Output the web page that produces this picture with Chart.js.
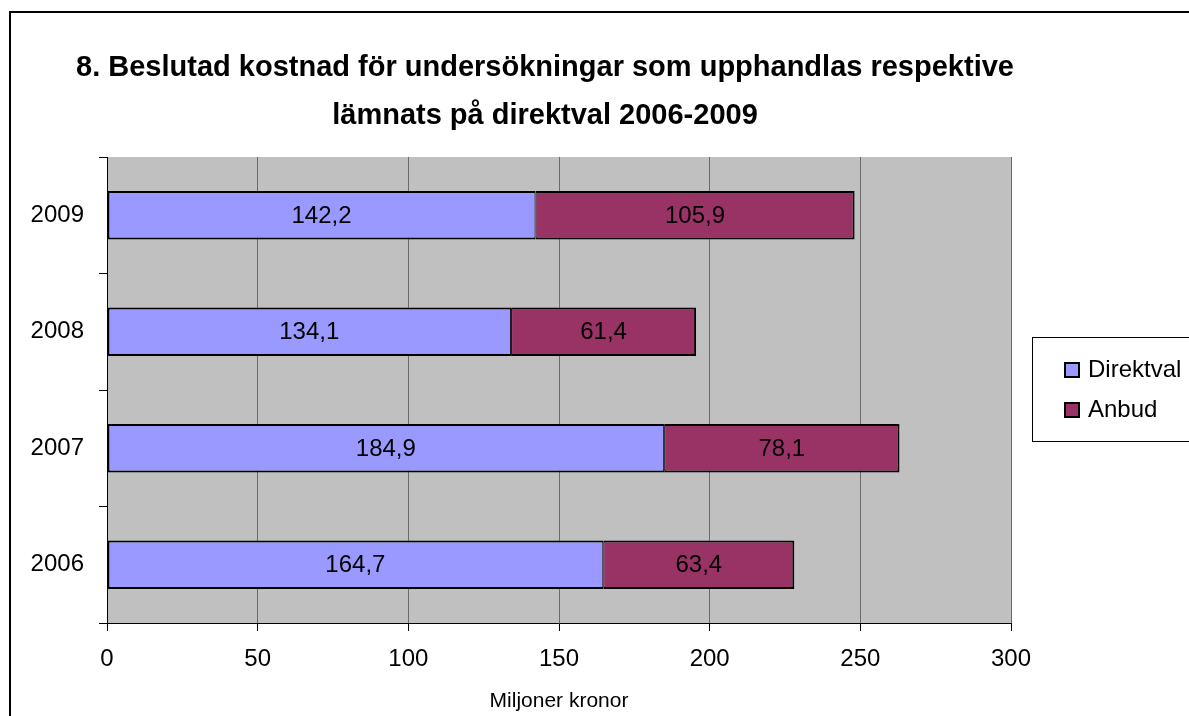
<!DOCTYPE html>
<html><head><meta charset="utf-8">
<script src="https://cdn.jsdelivr.net/npm/chart.js@4.4.0/dist/chart.umd.min.js"></script>
<style>html,body{margin:0;padding:0;background:#fff;}#wrap{width:1189px;height:716px;}</style>
</head><body><div id="wrap"><canvas id="c" width="1189" height="716"></canvas></div>
<script>
const categories = ['2006', '2007', '2008', '2009'];
const direktval = [164.7, 184.9, 134.1, 142.2];
const anbud = [63.4, 78.1, 61.4, 105.9];
const xTicks = [0, 50, 100, 150, 200, 250, 300];
const seriesNames = ['Direktval', 'Anbud'];
const seriesColors = ['#9999FF', '#993366'];
const titleLines = ['8. Beslutad kostnad för undersökningar som upphandlas respektive', 'lämnats på direktval 2006-2009'];
const xTitle = 'Miljoner kronor';

const FONT = '"Liberation Sans", Arial, Helvetica, sans-serif';
const PAD_L = 0, PAD_R = 178;
const PLOT_LEFT = 107, PLOT_BOTTOM = 623;
const TITLE_CENTER = 545;

const fmt = v => v.toFixed(1).replace('.', ',');

const decor = {
  id: 'decor',
  afterLayout(chart) {
    const t = chart.titleBlock;
    if (t) { t.left = TITLE_CENTER - 520; t.right = TITLE_CENTER + 520; t.width = 1040; }
  },
  beforeDraw(chart) {
    const {ctx, chartArea: a} = chart;
    ctx.save();
    ctx.fillStyle = '#fff';
    ctx.fillRect(0, 0, chart.width, chart.height);
    ctx.fillStyle = '#C0C0C0';
    ctx.fillRect(a.left, a.top, a.right - a.left, a.bottom - a.top);
    ctx.restore();
  },
  afterDatasetsDraw(chart) {
    const {ctx} = chart;
    ctx.save();
    ctx.font = '24px ' + FONT;
    ctx.fillStyle = '#000';
    ctx.textAlign = 'center';
    ctx.textBaseline = 'middle';
    chart.data.datasets.forEach((ds, di) => {
      const meta = chart.getDatasetMeta(di);
      meta.data.forEach((bar, i) => {
        ctx.fillText(fmt(ds.data[i]), (bar.x + bar.base) / 2, bar.y + 1);
      });
    });
    ctx.restore();
  },
  afterDraw(chart) {
    const {ctx} = chart;
    ctx.save();
    // outer chart border
    ctx.strokeStyle = '#000';
    ctx.lineWidth = 2;
    ctx.strokeRect(10, 12, 1300, 900);
    // legend
    const lx = 1032, ly = 337, lh = 104;
    ctx.lineWidth = 1;
    ctx.strokeRect(lx + 0.5, ly + 0.5, 300, lh);
    ctx.font = '24px ' + FONT;
    ctx.textBaseline = 'middle';
    ctx.textAlign = 'left';
    const rows = [369, 409];
    seriesNames.forEach((name, i) => {
      const cy = rows[i];
      ctx.fillStyle = seriesColors[i];
      ctx.fillRect(1065, cy - 6, 14, 14);
      ctx.lineWidth = 2;
      ctx.strokeStyle = '#000';
      ctx.strokeRect(1065, cy - 6, 14, 14);
      ctx.fillStyle = '#000';
      ctx.fillText(name, 1088, cy + 1);
    });
    ctx.restore();
  }
};

new Chart(document.getElementById('c'), {
  type: 'bar',
  plugins: [decor],
  data: {
    labels: categories,
    datasets: [
      { label: seriesNames[0], data: direktval, backgroundColor: seriesColors[0], borderColor: '#000',
        borderWidth: {top: 2, bottom: 2, left: 2, right: 1}, borderSkipped: false,
        barPercentage: 0.4167, categoryPercentage: 1 },
      { label: seriesNames[1], data: anbud, backgroundColor: seriesColors[1], borderColor: '#000',
        borderWidth: {top: 2, bottom: 2, left: 1, right: 2}, borderSkipped: false,
        barPercentage: 0.4167, categoryPercentage: 1 }
    ]
  },
  options: {
    indexAxis: 'y',
    responsive: false,
    animation: false,
    layout: { padding: { left: PAD_L, right: PAD_R, top: 0, bottom: 0 } },
    plugins: {
      legend: { display: false },
      tooltip: { enabled: false },
      title: {
        display: true,
        text: titleLines,
        color: '#000',
        font: { family: FONT, size: 29, weight: 'bold', lineHeight: '48px' },
        padding: { top: 44, bottom: 17 }
      }
    },
    scales: {
      x: {
        stacked: true, min: 0, max: 300,
        afterBuildTicks(s) { s.ticks = xTicks.map(v => ({ value: v })); },
        afterFit(s) { s.height = 716 - PLOT_BOTTOM; },
        ticks: { font: { family: FONT, size: 24 }, color: '#000', padding: 14, maxRotation: 0 },
        grid: { color: '#6a6a6a', lineWidth: 1, tickLength: 8, tickColor: '#000', drawTicks: true },
        border: { color: '#000', width: 1 },
        title: { display: true, text: xTitle, color: '#000', font: { family: FONT, size: 21 }, padding: { top: 0, bottom: 2 } }
      },
      y: {
        stacked: true, reverse: true,
        afterFit(s) { s.width = PLOT_LEFT - PAD_L; },
        ticks: { font: { family: FONT, size: 24 }, color: '#000', padding: 15 },
        grid: { drawOnChartArea: false, drawTicks: true, tickLength: 8, tickColor: '#000', offset: true },
        border: { color: '#000', width: 1 }
      }
    }
  }
});
</script>
</body></html>
